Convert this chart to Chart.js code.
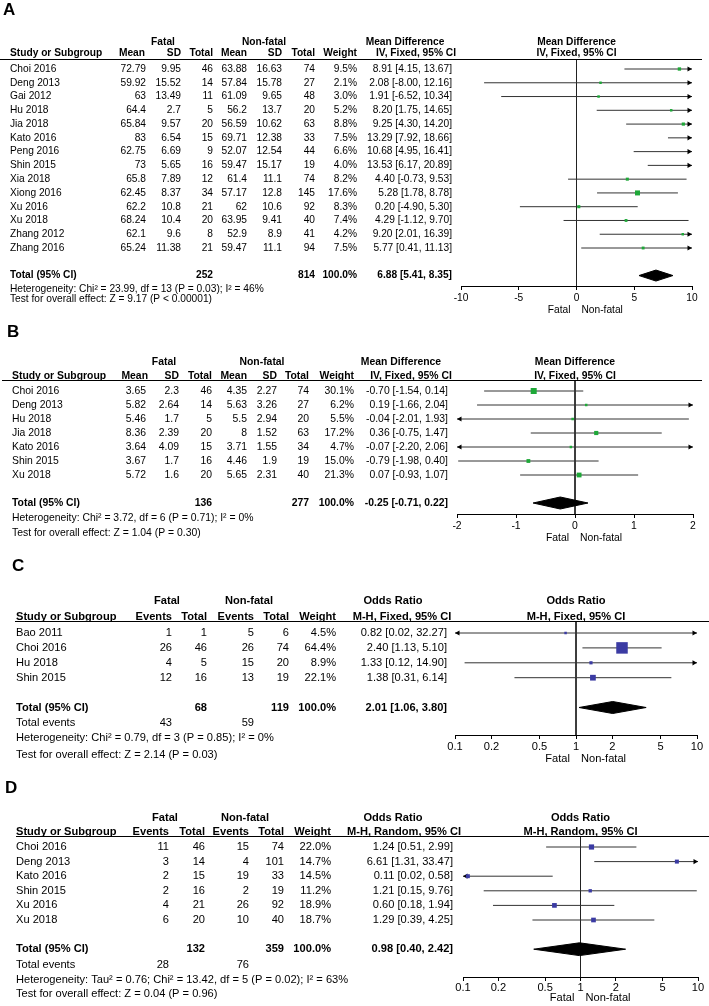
<!DOCTYPE html>
<html>
<head>
<meta charset="utf-8">
<script src="https://cdn.jsdelivr.net/npm/chart.js@4.4.1/dist/chart.umd.min.js"></script>
<style>
  html, body { margin: 0; padding: 0; background: #fff; width: 709px; height: 1006px; overflow: hidden; }
  canvas { position: absolute; left: 0; }
</style>
</head>
<body>
<canvas id="pA" width="709" height="318" style="top:0px"></canvas>
<canvas id="pB" width="709" height="230" style="top:318px"></canvas>
<canvas id="pC" width="709" height="222" style="top:548px"></canvas>
<canvas id="pD" width="709" height="236" style="top:770px"></canvas>
<script>
// A — mean difference, IV fixed
const studiesA = ['Choi 2016', 'Deng 2013', 'Gai 2012', 'Hu 2018', 'Jia 2018', 'Kato 2016', 'Peng 2016', 'Shin 2015', 'Xia 2018', 'Xiong 2016', 'Xu 2016', 'Xu 2018', 'Zhang 2012', 'Zhang 2016']
const fatalMeanA = [72.79, 59.92, 63, 64.4, 65.84, 83, 62.75, 73, 65.8, 62.45, 62.2, 68.24, 62.1, 65.24]
const fatalSdA = [9.95, 15.52, 13.49, 2.7, 9.57, 6.54, 6.69, 5.65, 7.89, 8.37, 10.8, 10.4, 9.6, 11.38]
const fatalNA = [46, 14, 11, 5, 20, 15, 9, 16, 12, 34, 21, 20, 8, 21]
const nonMeanA = [63.88, 57.84, 61.09, 56.2, 56.59, 69.71, 52.07, 59.47, 61.4, 57.17, 62, 63.95, 52.9, 59.47]
const nonSdA = [16.63, 15.78, 9.65, 13.7, 10.62, 12.38, 12.54, 15.17, 11.1, 12.8, 10.6, 9.41, 8.9, 11.1]
const nonNA = [74, 27, 48, 20, 63, 33, 44, 19, 74, 145, 92, 40, 41, 94]
const weightA = [9.5, 2.1, 3.0, 5.2, 8.8, 7.5, 6.6, 4.0, 8.2, 17.6, 8.3, 7.4, 4.2, 7.5]
const mdA = [8.91, 2.08, 1.91, 8.20, 9.25, 13.29, 10.68, 13.53, 4.40, 5.28, 0.20, 4.29, 9.20, 5.77]
const loA = [4.15, -8.00, -6.52, 1.75, 4.30, 7.92, 4.95, 6.17, -0.73, 1.78, -4.90, -1.12, 2.01, 0.41]
const hiA = [13.67, 12.16, 10.34, 14.65, 14.20, 18.66, 16.41, 20.89, 9.53, 8.78, 5.30, 9.70, 16.39, 11.13]
const pooledA = [6.88, 5.41, 8.35]
const totalsA = [252, 814]
const ticksA = [-10, -5, 0, 5, 10]
const hetA = ['Heterogeneity: Chi² = 23.99, df = 13 (P = 0.03); I² = 46%', 'Test for overall effect: Z = 9.17 (P < 0.00001)']

// B — mean difference, IV fixed
const studiesB = ['Choi 2016', 'Deng 2013', 'Hu 2018', 'Jia 2018', 'Kato 2016', 'Shin 2015', 'Xu 2018']
const fatalMeanB = [3.65, 5.82, 5.46, 8.36, 3.64, 3.67, 5.72]
const fatalSdB = [2.3, 2.64, 1.7, 2.39, 4.09, 1.7, 1.6]
const fatalNB = [46, 14, 5, 20, 15, 16, 20]
const nonMeanB = [4.35, 5.63, 5.5, 8, 3.71, 4.46, 5.65]
const nonSdB = [2.27, 3.26, 2.94, 1.52, 1.55, 1.9, 2.31]
const nonNB = [74, 27, 20, 63, 34, 19, 40]
const weightB = [30.1, 6.2, 5.5, 17.2, 4.7, 15.0, 21.3]
const mdB = [-0.70, 0.19, -0.04, 0.36, -0.07, -0.79, 0.07]
const loB = [-1.54, -1.66, -2.01, -0.75, -2.20, -1.98, -0.93]
const hiB = [0.14, 2.04, 1.93, 1.47, 2.06, 0.40, 1.07]
const pooledB = [-0.25, -0.71, 0.22]
const totalsB = [136, 277]
const ticksB = [-2, -1, 0, 1, 2]
const hetB = ['Heterogeneity: Chi² = 3.72, df = 6 (P = 0.71); I² = 0%', 'Test for overall effect: Z = 1.04 (P = 0.30)']

// C — odds ratio, M-H fixed
const studiesC = ['Bao 2011', 'Choi 2016', 'Hu 2018', 'Shin 2015']
const fatalEvC = [1, 26, 4, 12]
const fatalNC = [1, 46, 5, 16]
const nonEvC = [5, 26, 15, 13]
const nonNC = [6, 74, 20, 19]
const weightC = [4.5, 64.4, 8.9, 22.1]
const orC = [0.82, 2.40, 1.33, 1.38]
const loC = [0.02, 1.13, 0.12, 0.31]
const hiC = [32.27, 5.10, 14.90, 6.14]
const pooledC = [2.01, 1.06, 3.80]
const totalsC = [68, 119]
const eventsC = [43, 59]
const ticksC = [0.1, 0.2, 0.5, 1, 2, 5, 10]
const hetC = ['Heterogeneity: Chi² = 0.79, df = 3 (P = 0.85); I² = 0%', 'Test for overall effect: Z = 2.14 (P = 0.03)']

// D — odds ratio, M-H random
const studiesD = ['Choi 2016', 'Deng 2013', 'Kato 2016', 'Shin 2015', 'Xu 2016', 'Xu 2018']
const fatalEvD = [11, 3, 2, 2, 4, 6]
const fatalND = [46, 14, 15, 16, 21, 20]
const nonEvD = [15, 4, 19, 2, 26, 10]
const nonND = [74, 101, 33, 19, 92, 40]
const weightD = [22.0, 14.7, 14.5, 11.2, 18.9, 18.7]
const orD = [1.24, 6.61, 0.11, 1.21, 0.60, 1.29]
const loD = [0.51, 1.31, 0.02, 0.15, 0.18, 0.39]
const hiD = [2.99, 33.47, 0.58, 9.76, 1.94, 4.25]
const pooledD = [0.98, 0.40, 2.42]
const totalsD = [132, 359]
const eventsD = [28, 76]
const ticksD = [0.1, 0.2, 0.5, 1, 2, 5, 10]
const hetD = ['Heterogeneity: Tau² = 0.76; Chi² = 13.42, df = 5 (P = 0.02); I² = 63%', 'Test for overall effect: Z = 0.04 (P = 0.96)']

const FONT = '"Liberation Sans", Arial, Helvetica, sans-serif'
const GREEN = '#1ea838'
const BLUE = '#3b3ba3'
const CI_LINE = '#333'
const AXIS_H = 22
const ARROW_R = 3

const ci = (e, l, h) => `${e.toFixed(2)} [${l.toFixed(2)}, ${h.toFixed(2)}]`
const pct = w => w.toFixed(1) + '%'

const panels = [
  {
    canvas: 'pA', letter: 'A', top: 0, h: 318, font: 10.2,
    studies: studiesA, est: mdA, lo: loA, hi: hiA, weight: weightA, pooled: pooledA,
    cells: studiesA.map((s, i) => [fatalMeanA[i], fatalSdA[i], fatalNA[i], nonMeanA[i], nonSdA[i], nonNA[i], pct(weightA[i]), ci(mdA[i], loA[i], hiA[i])].map(String)),
    heads: ['Mean', 'SD', 'Total', 'Mean', 'SD', 'Total', 'Weight'], headX: [145, 181, 213, 247, 282, 315, 357],
    totals: totalsA, totalCols: [2, 5], events: null,
    effect: ['Mean Difference', 'IV, Fixed, 95% CI'], het: hetA, xTicks: ticksA, log: false,
    colX: [146, 181, 213, 247, 282, 315, 357, 452], studyX: 10, letterX: 3, letterY: 10,
    groupX: [163, 264], effectX: [405, 416],
    groupY: 42, headY: 53, ruleY: 59, ruleX: [0, 702], axisY: 286,
    xL: 461, xR: 692, row0: 69, step: 13.77, hetY: [289, 299], eventsY: 0, fnY: 310, tickPad: 2,
    color: GREEN, sq: 5, dia: 5.5
  },
  {
    canvas: 'pB', letter: 'B', top: 318, h: 230, font: 10.4,
    studies: studiesB, est: mdB, lo: loB, hi: hiB, weight: weightB, pooled: pooledB,
    cells: studiesB.map((s, i) => [fatalMeanB[i], fatalSdB[i], fatalNB[i], nonMeanB[i], nonSdB[i], nonNB[i], pct(weightB[i]), ci(mdB[i], loB[i], hiB[i])].map(String)),
    heads: ['Mean', 'SD', 'Total', 'Mean', 'SD', 'Total', 'Weight'], headX: [148, 179, 212, 247, 277, 309, 354],
    totals: totalsB, totalCols: [2, 5], events: null,
    effect: ['Mean Difference', 'IV, Fixed, 95% CI'], het: hetB, xTicks: ticksB, log: false,
    colX: [146, 179, 212, 247, 277, 309, 354, 448], studyX: 12, letterX: 7, letterY: 332,
    groupX: [164, 262], effectX: [401, 411],
    groupY: 362, headY: 376, ruleY: 380, ruleX: [2, 702], axisY: 514,
    xL: 457, xR: 693, row0: 391, step: 14, hetY: [518, 533], eventsY: 0, fnY: 538, tickPad: 2,
    color: GREEN, sq: 6, dia: 6
  },
  {
    canvas: 'pC', letter: 'C', top: 548, h: 222, font: 11.1,
    studies: studiesC, est: orC, lo: loC, hi: hiC, weight: weightC, pooled: pooledC,
    cells: studiesC.map((s, i) => [fatalEvC[i], fatalNC[i], nonEvC[i], nonNC[i], pct(weightC[i]), ci(orC[i], loC[i], hiC[i])].map(String)),
    heads: ['Events', 'Total', 'Events', 'Total', 'Weight'], headX: [172, 207, 254, 289, 336],
    totals: totalsC, totalCols: [1, 3], events: eventsC,
    effect: ['Odds Ratio', 'M-H, Fixed, 95% CI'], het: hetC, xTicks: ticksC, log: true,
    colX: [172, 207, 254, 289, 336, 447], studyX: 16, letterX: 12, letterY: 566,
    groupX: [167, 249], effectX: [393, 402],
    groupY: 601, headY: 617, ruleY: 621, ruleX: [15, 709], axisY: 735,
    xL: 455, xR: 697, row0: 633, step: 14.9, hetY: [738, 755], eventsY: 723, fnY: 759, tickPad: 1,
    color: BLUE, sq: 11.5, dia: 6
  },
  {
    canvas: 'pD', letter: 'D', top: 770, h: 236, font: 11.1,
    studies: studiesD, est: orD, lo: loD, hi: hiD, weight: weightD, pooled: pooledD,
    cells: studiesD.map((s, i) => [fatalEvD[i], fatalND[i], nonEvD[i], nonND[i], pct(weightD[i]), ci(orD[i], loD[i], hiD[i])].map(String)),
    heads: ['Events', 'Total', 'Events', 'Total', 'Weight'], headX: [169, 205, 249, 284, 331],
    totals: totalsD, totalCols: [1, 3], events: eventsD,
    effect: ['Odds Ratio', 'M-H, Random, 95% CI'], het: hetD, xTicks: ticksD, log: true,
    colX: [169, 205, 249, 284, 331, 453], studyX: 16, letterX: 5, letterY: 788,
    groupX: [165, 245], effectX: [393, 404],
    groupY: 818, headY: 832, ruleY: 836, ruleX: [16, 709], axisY: 977,
    xL: 463, xR: 698, row0: 847, step: 14.6, hetY: [980, 994], eventsY: 965, fnY: 998, tickPad: 0,
    color: BLUE, sq: 5.2, dia: 6.4
  }
]

// table text, header rule and axis caption
function textPlugin(p, nullV) {
  return {
    id: 'tableText',
    afterDraw(chart) {
      const ctx = chart.ctx
      const ys = chart.scales.y
      const xs = chart.scales.x
      const T = p.top
      const rowY = i => ys.getPixelForValue(i)
      const put = (t, x, y, align, bold, size) => {
        ctx.font = (bold ? 'bold ' : '') + (size || p.font) + 'px ' + FONT
        ctx.textAlign = align
        ctx.fillText(t, x, y)
      }
      ctx.save()
      ctx.fillStyle = '#000'
      ctx.textBaseline = 'middle'
      put(p.letter, p.letterX, p.letterY - T, 'left', true, 17)

      put('Fatal', p.groupX[0], p.groupY - T, 'center', true)
      put('Non-fatal', p.groupX[1], p.groupY - T, 'center', true)
      put(p.effect[0], p.effectX[0], p.groupY - T, 'center', true)
      put(p.effect[1], p.effectX[1], p.headY - T, 'center', true)
      const zx = xs.getPixelForValue(nullV)
      put(p.effect[0], zx, p.groupY - T, 'center', true)
      put(p.effect[1], zx, p.headY - T, 'center', true)
      put('Study or Subgroup', p.studyX, p.headY - T, 'left', true)
      p.heads.forEach((h, j) => put(h, p.headX[j], p.headY - T, 'right', true))

      ctx.strokeStyle = '#000'
      ctx.lineWidth = 1
      ctx.beginPath()
      ctx.moveTo(p.ruleX[0], chart.chartArea.top + 0.5)
      ctx.lineTo(p.ruleX[1], chart.chartArea.top + 0.5)
      ctx.stroke()

      p.cells.forEach((row, i) => {
        put(p.studies[i], p.studyX, rowY(i), 'left')
        row.forEach((c, j) => put(c, p.colX[j], rowY(i), 'right'))
      })

      const tr = rowY(p.studies.length + 1)
      const last = p.colX.length - 1
      put('Total (95% CI)', p.studyX, tr, 'left', true)
      p.totalCols.forEach((c, k) => put(String(p.totals[k]), p.colX[c], tr, 'right', true))
      put('100.0%', p.colX[last - 1], tr, 'right', true)
      put(ci(p.pooled[0], p.pooled[1], p.pooled[2]), p.colX[last], tr, 'right', true)

      if (p.events) {
        put('Total events', p.studyX, p.eventsY - T, 'left')
        put(String(p.events[0]), p.colX[0], p.eventsY - T, 'right')
        put(String(p.events[1]), p.colX[2], p.eventsY - T, 'right')
      }
      put(p.het[0], p.studyX, p.hetY[0] - T, 'left')
      put(p.het[1], p.studyX, p.hetY[1] - T, 'left')

      put('Fatal', zx - 6, p.fnY - T, 'right')
      put('Non-fatal', zx + 5, p.fnY - T, 'left')
      ctx.restore()
    }
  }
}

function makePanel(p) {
  const n = p.studies.length
  const totalRow = n + 1
  const ymin = (p.ruleY - p.row0) / p.step
  const ymax = (p.axisY - p.row0) / p.step
  const xmin = p.xTicks[0]
  const xmax = p.xTicks[p.xTicks.length - 1]
  const nullV = p.log ? 1 : 0
  const w = p.xR - p.xL

  // data value lying px pixels inside the left or right end of the axis
  const inset = (right, px) => {
    if (p.log) {
      const a = Math.log10(xmin), b = Math.log10(xmax)
      return Math.pow(10, right ? b - px * (b - a) / w : a + px * (b - a) / w)
    }
    return right ? xmax - px * (xmax - xmin) / w : xmin + px * (xmax - xmin) / w
  }

  const datasets = []
  const wmax = Math.max(...p.weight)
  datasets.push({
    type: 'scatter', order: 0, clip: 0,
    data: p.est.map((e, i) => ({ x: e, y: i })),
    pointStyle: 'rect',
    pointRadius: c => Math.max(2.5, p.sq * Math.pow(p.weight[c.dataIndex] / wmax, 0.65)) / Math.SQRT2,
    pointBackgroundColor: p.color, pointBorderWidth: 0
  })

  const arrows = []
  p.studies.forEach((s, i) => {
    if (p.hi[i] > xmax) arrows.push({ x: inset(true, ARROW_R), y: i, r: 90 })
    if (p.lo[i] < xmin) arrows.push({ x: inset(false, ARROW_R), y: i, r: -90 })
  })
  datasets.push({
    type: 'scatter', order: 1, clip: false,
    data: arrows,
    pointStyle: 'triangle', pointRadius: ARROW_R,
    pointRotation: c => (c.raw ? c.raw.r : 0),
    pointBackgroundColor: '#000', pointBorderWidth: 0
  })

  p.studies.forEach((s, i) => datasets.push({
    type: 'line', order: 2, clip: 0,
    data: [{ x: p.lo[i], y: i }, { x: p.hi[i], y: i }],
    borderColor: CI_LINE, borderWidth: 1, pointRadius: 0, fill: false
  }))

  const hh = p.dia / p.step
  const [pe, pl, ph] = p.pooled
  datasets.push({
    type: 'line', order: 3,
    data: [{ x: pl, y: totalRow }, { x: pe, y: totalRow - hh }, { x: ph, y: totalRow }],
    borderColor: '#000', borderWidth: 1, backgroundColor: '#000', pointRadius: 0, fill: '+1', tension: 0
  })
  datasets.push({
    type: 'line', order: 3,
    data: [{ x: pl, y: totalRow }, { x: pe, y: totalRow + hh }, { x: ph, y: totalRow }],
    borderColor: '#000', borderWidth: 1, pointRadius: 0, fill: false, tension: 0
  })

  datasets.push({
    type: 'line', order: 4, clip: false,
    data: [{ x: nullV, y: ymin }, { x: nullV, y: ymax }],
    borderColor: '#222', borderWidth: 1, pointRadius: 0, fill: false
  })

  const ctx = document.getElementById(p.canvas).getContext('2d')
  new Chart(ctx, {
    type: 'scatter',
    data: { datasets },
    options: {
      responsive: false,
      animation: false,
      events: [],
      layout: {
        padding: { left: p.xL, right: 709 - p.xR, top: p.ruleY - p.top, bottom: p.h - (p.axisY - p.top) - AXIS_H }
      },
      plugins: { legend: { display: false }, tooltip: { enabled: false } },
      scales: {
        x: {
          type: p.log ? 'logarithmic' : 'linear',
          min: xmin, max: xmax,
          afterBuildTicks: s => { s.ticks = p.xTicks.map(v => ({ value: v })) },
          afterFit: s => { s.height = AXIS_H },
          grid: { drawOnChartArea: false, drawTicks: true, tickLength: 4, color: '#000', tickColor: '#000', lineWidth: 1 },
          border: { display: true, color: '#000', width: 1 },
          ticks: {
            color: '#000', padding: p.tickPad, maxRotation: 0, autoSkip: false,
            font: { family: FONT, size: p.font },
            callback: v => String(v)
          }
        },
        y: { type: 'linear', display: false, reverse: true, min: ymin, max: ymax }
      }
    },
    plugins: [textPlugin(p, nullV)]
  })
}

panels.forEach(makePanel)
</script>
</body>
</html>
